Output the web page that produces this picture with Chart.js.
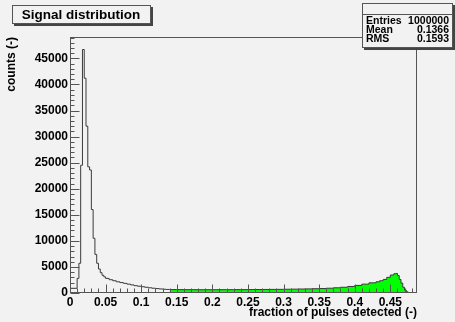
<!DOCTYPE html>
<html>
<head>
<meta charset="utf-8">
<script src="https://cdn.jsdelivr.net/npm/chart.js@4.4.0/dist/chart.umd.min.js"></script>
<style>
  html, body { margin: 0; padding: 0; background: #f2f2f2; }
  #wrap { width: 455px; height: 322px; }
</style>
</head>
<body>
<div id="wrap"><canvas id="signalChart" width="455" height="322"></canvas></div>
<script>
  // histogram: low bin edges and counts
  const peakEdges = [0, 0.0100, 0.0125, 0.0150, 0.0175, 0.0200, 0.0225, 0.0250, 0.0275, 0.0300,
    0.0325, 0.0350, 0.0375, 0.0400, 0.0425, 0.0450, 0.0475, 0.0500, 0.0550, 0.0600,
    0.0650, 0.0700, 0.0750, 0.0800, 0.0850, 0.0900, 0.0950, 0.1000, 0.1050, 0.1100,
    0.1150, 0.1200, 0.1250, 0.1300, 0.1350, 0.1400];
  const peakCounts = [0, 900, 2800, 5700, 24500, 46700, 41200, 32000, 24200, 23600,
    16000, 10500, 7400, 5700, 4600, 3900, 3400, 3100, 2800, 2550,
    2350, 2150, 2000, 1850, 1700, 1550, 1400, 1300, 1200, 1100,
    1000, 920, 850, 780, 720, 680];

  const greenEdges = [0.14, 0.15, 0.16, 0.17, 0.18, 0.19, 0.20, 0.21, 0.22, 0.23,
    0.24, 0.25, 0.26, 0.27, 0.28, 0.29, 0.30, 0.31, 0.32, 0.33,
    0.34, 0.35, 0.36, 0.37, 0.38, 0.39, 0.40, 0.41, 0.42, 0.43,
    0.435, 0.44, 0.445, 0.45, 0.455, 0.4575, 0.46, 0.4625, 0.465, 0.4675,
    0.47, 0.4725, 0.475, 0.4775, 0.48];
  const greenCounts = [680, 660, 650, 640, 640, 630, 630, 630, 640, 640,
    650, 650, 660, 670, 680, 690, 700, 720, 740, 760,
    790, 820, 860, 920, 1000, 1100, 1250, 1450, 1700, 1950,
    2150, 2350, 2600, 3000, 3450, 3700, 3750, 3350, 2600, 1900,
    1100, 550, 220, 60, 0];

  const xTicks = [0, 0.05, 0.1, 0.15, 0.2, 0.25, 0.3, 0.35, 0.4, 0.45];
  const yTicks = [0, 5000, 10000, 15000, 20000, 25000, 30000, 35000, 40000, 45000];
  const xMax = 0.4875;
  const yMax = 49100;
  const titleText = 'Signal distribution';
  const xTitle = 'fraction of pulses detected (-)';
  const yTitle = 'counts (-)';
  const statLabels = ['Entries', 'Mean', 'RMS'];
  const statValues = ['1000000', '0.1366', '0.1593'];

  const FONT = '"Liberation Sans", Arial, Helvetica, sans-serif';
  const BG = '#f2f2f2';
  const LINE = '#3a3a3a';

  function toPoints(edges, counts) {
    return edges.map((x, i) => ({ x: x, y: counts[i] }));
  }

  function drawPave(ctx, x, y, w, h) {
    ctx.fillStyle = '#444';
    ctx.fillRect(x + 2, y + 2, w, h);
    ctx.fillStyle = BG;
    ctx.fillRect(x, y, w, h);
    ctx.strokeStyle = '#555';
    ctx.lineWidth = 1;
    ctx.strokeRect(x + 0.5, y + 0.5, w - 1, h - 1);
  }

  const rootDecor = {
    id: 'rootDecor',
    beforeDraw(chart) {
      const ctx = chart.ctx;
      ctx.save();
      ctx.fillStyle = BG;
      ctx.fillRect(0, 0, chart.width, chart.height);
      ctx.restore();
    },
    afterDatasetsDraw(chart) {
      const { ctx, chartArea: a, scales: { x, y } } = chart;
      const L = Math.round(a.left) + 0.5, R = Math.round(a.right) - 0.5;
      const T = Math.round(a.top) + 0.5, B = Math.round(a.bottom) - 0.5;
      ctx.save();
      ctx.strokeStyle = '#555';
      ctx.lineWidth = 1;
      ctx.beginPath();
      // x ticks, pointing up into the frame
      for (let i = 0; i * 0.01 <= xMax; i++) {
        const px = Math.round(x.getPixelForValue(i * 0.01)) + 0.5;
        const len = i % 5 === 0 ? 8 : 4;
        ctx.moveTo(px, B);
        ctx.lineTo(px, B - len);
      }
      // y ticks, pointing right into the frame
      for (let i = 0; i * 1000 <= yMax; i++) {
        const py = Math.round(y.getPixelForValue(i * 1000)) + 0.5;
        const len = i % 5 === 0 ? 9 : 4;
        ctx.moveTo(L, py);
        ctx.lineTo(L + len, py);
      }
      ctx.stroke();
      ctx.strokeRect(L, T, R - L, B - T);
      ctx.restore();
    },
    afterDraw(chart) {
      const ctx = chart.ctx;
      ctx.save();
      // title pave
      drawPave(ctx, 12, 5, 139, 19);
      ctx.fillStyle = '#000';
      ctx.font = 'bold 13.5px ' + FONT;
      ctx.textAlign = 'center';
      ctx.textBaseline = 'middle';
      ctx.fillText(titleText, 81, 15);

      // stats pave
      drawPave(ctx, 362, 3, 91, 45);
      ctx.strokeStyle = '#555';
      ctx.beginPath();
      ctx.moveTo(362, 14.5);
      ctx.lineTo(453, 14.5);
      ctx.stroke();
      ctx.fillStyle = '#000';
      ctx.font = 'bold 10.5px ' + FONT;
      statLabels.forEach((lab, i) => {
        const ty = 21.5 + i * 8.7;
        ctx.textAlign = 'left';
        ctx.fillText(lab, 366, ty);
        ctx.textAlign = 'right';
        ctx.fillText(statValues[i], 449, ty);
      });
      ctx.restore();
    }
  };

  const tickFont = { family: FONT, size: 12, weight: 'bold' };

  new Chart(document.getElementById('signalChart'), {
    type: 'line',
    data: {
      datasets: [
        {
          data: toPoints(greenEdges, greenCounts),
          stepped: 'after',
          borderColor: LINE,
          borderWidth: 1,
          backgroundColor: '#00ff00',
          fill: 'origin',
          pointRadius: 0
        },
        {
          data: toPoints(peakEdges, peakCounts),
          stepped: 'after',
          borderColor: LINE,
          borderWidth: 1,
          fill: false,
          pointRadius: 0
        }
      ]
    },
    options: {
      responsive: false,
      animation: false,
      layout: { padding: { top: 37, right: 38, left: 0, bottom: 0 } },
      plugins: { legend: { display: false }, tooltip: { enabled: false } },
      scales: {
        x: {
          type: 'linear',
          min: 0,
          max: xMax,
          afterFit(s) { s.height = 29; },
          afterBuildTicks(s) { s.ticks = xTicks.map(v => ({ value: v })); },
          grid: { display: false, drawTicks: false },
          border: { display: false },
          ticks: {
            autoSkip: false,
            maxRotation: 0,
            padding: 2,
            color: '#000',
            font: tickFont,
            callback: v => String(+v.toFixed(2))
          },
          title: { display: true, text: xTitle, align: 'end', color: '#000', font: tickFont, padding: { top: 0, bottom: 2 } }
        },
        y: {
          min: 0,
          max: yMax,
          afterFit(s) { s.width = 70; },
          afterBuildTicks(s) { s.ticks = yTicks.map(v => ({ value: v })); },
          grid: { display: false, drawTicks: false },
          border: { display: false },
          ticks: {
            autoSkip: false,
            padding: 2,
            color: '#000',
            font: tickFont,
            callback: v => String(v)
          },
          title: { display: true, text: yTitle, align: 'end', color: '#000', font: tickFont, padding: { top: 4, bottom: 0 } }
        }
      }
    },
    plugins: [rootDecor]
  });
</script>
</body>
</html>
